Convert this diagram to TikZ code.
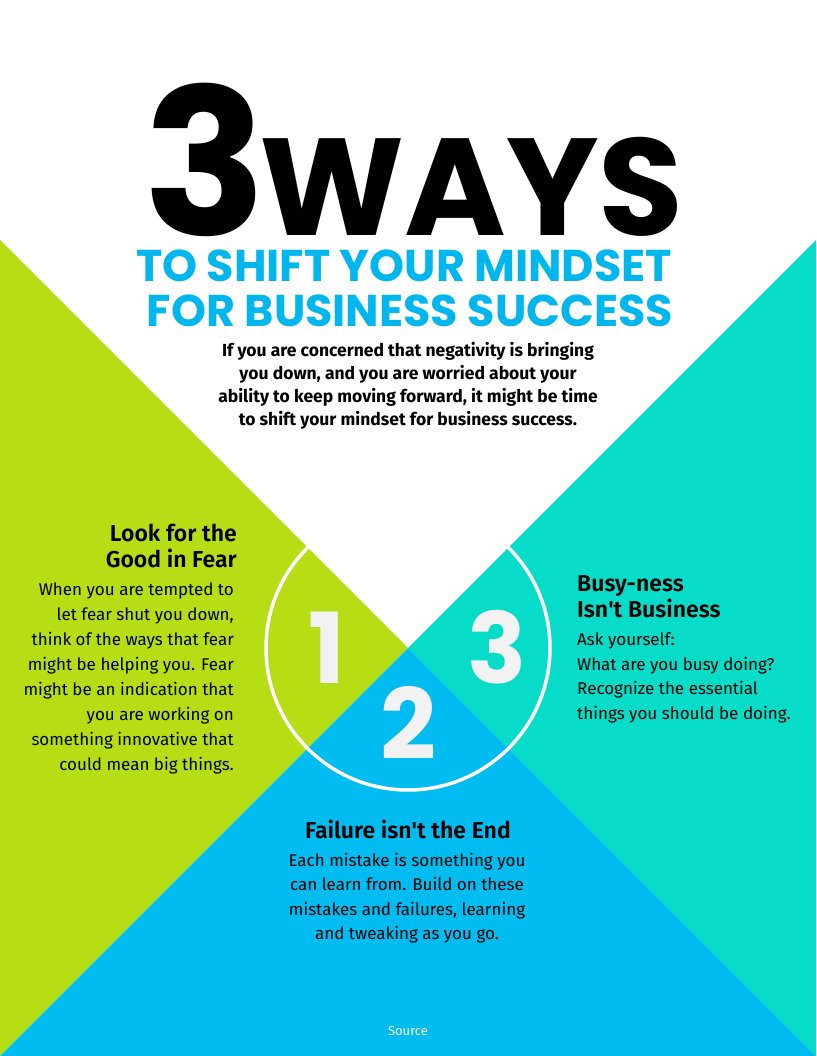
\documentclass[tikz,border=0pt]{standalone}
\usepackage{fontspec}
\setmainfont{Fira Sans}
\newfontfamily\popfont{Poppins}
\IfFontExistsTF{Fira Sans SemiBold}{\newfontfamily\headfont{Fira Sans SemiBold}}{\newfontfamily\headfont{Fira Sans}[UprightFont=*-Bold]}
\definecolor{limeg}{RGB}{183,221,20}
\definecolor{tealc}{RGB}{6,220,200}
\definecolor{skyb}{RGB}{0,188,240}
\definecolor{titleb}{RGB}{0,182,238}
\definecolor{numgray}{RGB}{242,242,242}
\tikzset{
  bigtitle/.style={inner sep=0pt, text depth=0pt, text=black, font={\popfont\bfseries\fontsize{#1}{#1}\selectfont}},
  subtitle/.style={inner sep=0pt, text depth=0pt, text=titleb, font={\popfont\bfseries\fontsize{44.5}{44.5}\selectfont}},
  numtext/.style={inner sep=0pt, text=numgray, font={\popfont\bfseries\fontsize{98}{98}\selectfont}},
  heading/.style={inner sep=0pt, text=black, font={\headfont\fontsize{23}{26}\selectfont}},
  bodytext/.style={inner sep=0pt, text=black, font={\fontsize{17}{25}\selectfont}},
  introtext/.style={inner sep=0pt, text=black, align=center, font={\bfseries\fontsize{17.5}{23}\selectfont}},
}
\begin{document}
\begin{tikzpicture}[x=1pt,y=-1pt]
\useasboundingbox (0,0) rectangle (816,1056);
\fill[white] (0,0) rectangle (816,1056);
\coordinate (c) at (408,648);
\fill[limeg] (0,240) -- (c) -- (0,1056) -- cycle;
\fill[tealc] (816,240) -- (c) -- (816,1056) -- cycle;
\fill[skyb] (0,1056) -- (c) -- (816,1056) -- cycle;
\draw[white, line width=3.5pt] (c) circle[radius=142];

% title
\node[bigtitle=204, anchor=base west] (three) at (143,236) {3};
\node[bigtitle=138, anchor=base west] (ways) at (259,236) {WAYS};
\node[subtitle, anchor=base] (sub1) at (404,282) {TO SHIFT YOUR MINDSET};
\node[subtitle, anchor=base] (sub2) at (410,326) {FOR BUSINESS SUCCESS};
\node[introtext, anchor=north] (intro) at (408,342.5) {If you are concerned that negativity is bringing\\you down, and you are worried about your\\ability to keep moving forward, it might be time\\to shift your mindset for business success.};

% numbers
\node[numtext] (n1) at (327,648) {1};
\node[numtext] (n2) at (408,723) {2};
\node[numtext] (n3) at (497,647) {3};

% left block
\node[heading, anchor=north east, align=right] (h1) at (237,524) {Look for the\\Good in Fear};
\node[bodytext, anchor=north east, align=right] (b1) at (234,583) {When you are tempted to\\let fear shut you down,\\think of the ways that fear\\might be helping you. Fear\\might be an indication that\\you are working on\\something innovative that\\could mean big things.};

% right block
\node[heading, anchor=north west, align=left] (h3) at (577,575) {Busy-ness\\Isn\textquotesingle t Business};
\node[bodytext, anchor=north west, align=left, font={\fontsize{17}{24.5}\selectfont}] (b3) at (577,633) {Ask yourself:\\What are you busy doing?\\Recognize the essential\\things you should be doing.};

% bottom block
\node[heading, anchor=north, align=center] (h2) at (408,820) {Failure isn\textquotesingle t the End};
\node[bodytext, anchor=north, align=center, font={\fontsize{17}{24.3}\selectfont}] (b2) at (407,853) {Each mistake is something you\\can learn from. Build on these\\mistakes and failures, learning\\and tweaking as you go.};

\node[inner sep=0pt, text=white, font={\fontsize{13}{13}\selectfont}, anchor=base] (src) at (408,1035) {Source};
\end{tikzpicture}
\end{document}
